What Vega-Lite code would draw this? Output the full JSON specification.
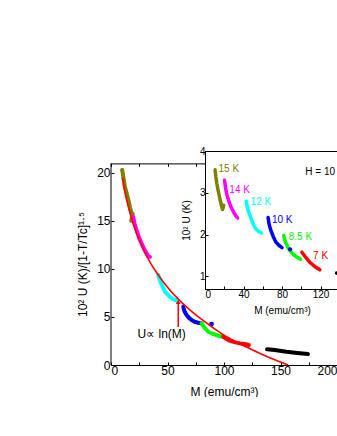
{
  "$schema": "https://vega.github.io/schema/vega-lite/v6.json",
  "padding": {"left": 76, "top": 145, "right": 0, "bottom": 0},
  "background": "white",
  "spacing": -132,
  "bounds": "flush",
  "align": "none",
  "config": {
    "font": "Liberation Sans",
    "axis": {"grid": false, "domainColor": "black", "tickColor": "black", "labelColor": "black", "titleColor": "black", "titleFontWeight": "normal", "tickSize": -3, "labelOverlap": false}
  },
  "datasets": {
    "mainData": [
      {"s": "15 K", "M": 9.8, "U": 20.3, "i": 1}, {"s": "15 K", "M": 10.3, "U": 20.0, "i": 2}, {"s": "15 K", "M": 11, "U": 19.5, "i": 3}, {"s": "15 K", "M": 12.4, "U": 18.5, "i": 4}, {"s": "15 K", "M": 14, "U": 17.8, "i": 5}, {"s": "15 K", "M": 15.3, "U": 17.2, "i": 6}, {"s": "15 K", "M": 17, "U": 16.3, "i": 7}, {"s": "15 K", "M": 18.3, "U": 15.8, "i": 8}, {"s": "15 K", "M": 19.3, "U": 15.7, "i": 9}, {"s": "15 K", "M": 18.6, "U": 15.3, "i": 10}, {"s": "15 K", "M": 17.8, "U": 15.0, "i": 11},
      {"s": "14 K", "M": 19.7, "U": 15.4, "i": 12}, {"s": "14 K", "M": 21, "U": 14.6, "i": 13}, {"s": "14 K", "M": 22.7, "U": 14.0, "i": 14}, {"s": "14 K", "M": 25, "U": 13.2, "i": 15}, {"s": "14 K", "M": 27.1, "U": 12.65, "i": 16}, {"s": "14 K", "M": 30, "U": 11.9, "i": 17}, {"s": "14 K", "M": 33, "U": 11.3, "i": 18}, {"s": "14 K", "M": 34.5, "U": 11.25, "i": 19},
      {"s": "12 K", "M": 41.8, "U": 9.36, "i": 20}, {"s": "12 K", "M": 43, "U": 8.9, "i": 21}, {"s": "12 K", "M": 45, "U": 8.3, "i": 22}, {"s": "12 K", "M": 48, "U": 7.6, "i": 23}, {"s": "12 K", "M": 52, "U": 7.1, "i": 24}, {"s": "12 K", "M": 55, "U": 6.85, "i": 25}, {"s": "12 K", "M": 58, "U": 6.7, "i": 26},
      {"s": "10 K", "M": 63.9, "U": 6.06, "i": 27}, {"s": "10 K", "M": 65, "U": 5.6, "i": 28}, {"s": "10 K", "M": 66.9, "U": 5.2, "i": 29}, {"s": "10 K", "M": 69, "U": 4.9, "i": 30}, {"s": "10 K", "M": 71.3, "U": 4.68, "i": 31}, {"s": "10 K", "M": 74, "U": 4.5, "i": 32}, {"s": "10 K", "M": 77.1, "U": 4.4, "i": 33}, {"s": "10 K", "M": 80.1, "U": 4.33, "i": 34},
      {"s": "8.5 K", "M": 80.1, "U": 4.33, "i": 35}, {"s": "8.5 K", "M": 83, "U": 3.85, "i": 36}, {"s": "8.5 K", "M": 86, "U": 3.46, "i": 37}, {"s": "8.5 K", "M": 90, "U": 3.25, "i": 38}, {"s": "8.5 K", "M": 93.4, "U": 3.12, "i": 39}, {"s": "8.5 K", "M": 97, "U": 2.98, "i": 40}, {"s": "8.5 K", "M": 100.7, "U": 2.88, "i": 41},
      {"s": "7 K", "M": 99.2, "U": 2.95, "i": 42}, {"s": "7 K", "M": 102, "U": 2.72, "i": 43}, {"s": "7 K", "M": 105, "U": 2.53, "i": 44}, {"s": "7 K", "M": 110, "U": 2.35, "i": 45}, {"s": "7 K", "M": 114, "U": 2.25, "i": 46}, {"s": "7 K", "M": 118, "U": 2.18, "i": 47}, {"s": "7 K", "M": 122, "U": 2.08, "i": 48},
      {"s": "other", "M": 138.1, "U": 1.63, "i": 49}, {"s": "other", "M": 145, "U": 1.55, "i": 50}, {"s": "other", "M": 155.2, "U": 1.38, "i": 51}, {"s": "other", "M": 165, "U": 1.25, "i": 52}, {"s": "other", "M": 174.3, "U": 1.14, "i": 53}
    ],
    "mainDots": [{"s": "10 K", "M": 89, "U": 4.26}],
    "fit": [
      {"M": 10, "U": 19.5}, {"M": 12, "U": 18.2}, {"M": 15, "U": 16.6}, {"M": 20, "U": 14.6}, {"M": 25, "U": 13.0}, {"M": 30, "U": 11.7}, {"M": 35, "U": 10.6}, {"M": 40, "U": 9.67}, {"M": 50, "U": 8.09}, {"M": 60, "U": 6.8}, {"M": 70, "U": 5.71}, {"M": 80, "U": 4.76}, {"M": 90, "U": 3.9}, {"M": 100, "U": 3.1}, {"M": 110, "U": 2.45}, {"M": 120, "U": 1.87}, {"M": 130, "U": 1.31}, {"M": 140, "U": 0.79}, {"M": 150, "U": 0.31}, {"M": 156.6, "U": 0}
    ],
    "arrow": [{"M": 59.5, "U0": 3.95, "U1": 6.5}],
    "arrowHead": [{"M": 59.5, "U": 6.55}],
    "note": [{"M": 44.8, "U": 3.22, "t": "U∝ ln(M)"}],
    "frame": [{"M": 0, "U0": 0, "U1": 21}],
    "insetData": [
      {"s": "15 K", "M": 10.5, "U": 3.55, "i": 1}, {"s": "15 K", "M": 11.3, "U": 3.38, "i": 2}, {"s": "15 K", "M": 12.3, "U": 3.22, "i": 3}, {"s": "15 K", "M": 13.7, "U": 3.05, "i": 4}, {"s": "15 K", "M": 15.1, "U": 2.9, "i": 5}, {"s": "15 K", "M": 16.5, "U": 2.75, "i": 6}, {"s": "15 K", "M": 17.9, "U": 2.63, "i": 7}, {"s": "15 K", "M": 18.3, "U": 2.6, "i": 8}, {"s": "15 K", "M": 19.5, "U": 2.7, "i": 9},
      {"s": "14 K", "M": 20.3, "U": 3.3, "i": 10}, {"s": "14 K", "M": 21.5, "U": 3.1, "i": 11}, {"s": "14 K", "M": 22.8, "U": 2.95, "i": 12}, {"s": "14 K", "M": 24.5, "U": 2.82, "i": 13}, {"s": "14 K", "M": 27, "U": 2.66, "i": 14}, {"s": "14 K", "M": 29.8, "U": 2.54, "i": 15}, {"s": "14 K", "M": 32, "U": 2.45, "i": 16}, {"s": "14 K", "M": 34, "U": 2.4, "i": 17},
      {"s": "12 K", "M": 42.8, "U": 2.8, "i": 18}, {"s": "12 K", "M": 44.5, "U": 2.6, "i": 19}, {"s": "12 K", "M": 47.4, "U": 2.42, "i": 20}, {"s": "12 K", "M": 50, "U": 2.26, "i": 21}, {"s": "12 K", "M": 52.6, "U": 2.14, "i": 22}, {"s": "12 K", "M": 55.5, "U": 2.08, "i": 23}, {"s": "12 K", "M": 58.6, "U": 2.04, "i": 24},
      {"s": "10 K", "M": 65.6, "U": 2.41, "i": 25}, {"s": "10 K", "M": 66.5, "U": 2.26, "i": 26}, {"s": "10 K", "M": 68.4, "U": 2.1, "i": 27}, {"s": "10 K", "M": 71, "U": 1.95, "i": 28}, {"s": "10 K", "M": 73.7, "U": 1.82, "i": 29}, {"s": "10 K", "M": 77, "U": 1.74, "i": 30}, {"s": "10 K", "M": 80, "U": 1.69, "i": 31},
      {"s": "8.5 K", "M": 81.8, "U": 1.98, "i": 32}, {"s": "8.5 K", "M": 83.5, "U": 1.83, "i": 33}, {"s": "8.5 K", "M": 86, "U": 1.7, "i": 34}, {"s": "8.5 K", "M": 88.5, "U": 1.61, "i": 35}, {"s": "8.5 K", "M": 91.2, "U": 1.54, "i": 36}, {"s": "8.5 K", "M": 95, "U": 1.47, "i": 37}, {"s": "8.5 K", "M": 99.3, "U": 1.41, "i": 38},
      {"s": "7 K", "M": 100.7, "U": 1.58, "i": 39}, {"s": "7 K", "M": 104.5, "U": 1.46, "i": 40}, {"s": "7 K", "M": 108.8, "U": 1.34, "i": 41}, {"s": "7 K", "M": 114, "U": 1.24, "i": 42}, {"s": "7 K", "M": 119.3, "U": 1.16, "i": 43},
      {"s": "other", "M": 136.8, "U": 1.08, "i": 44}, {"s": "other", "M": 145, "U": 1.04, "i": 45}
    ],
    "insetDots": [{"s": "10 K", "M": 88.4, "U": 1.65}],
    "insetLabels": [
      {"s": "15 K", "M": 14, "U": 3.58}, {"s": "14 K", "M": 25.3, "U": 3.06}, {"s": "12 K", "M": 47.4, "U": 2.78}, {"s": "10 K", "M": 69.5, "U": 2.36}, {"s": "8.5 K", "M": 87, "U": 1.94}, {"s": "7 K", "M": 112.3, "U": 1.5}
    ],
    "insetNote": [{"M": 104.2, "U": 3.5, "t": "H = 10 kOe"}]
  },
  "hconcat": [
    {
      "width": 226,
      "height": 214,
      "view": {"stroke": null},
      "resolve": {"axis": {"x": "independent"}},
      "layer": [
        {
          "data": {"name": "mainData"},
          "mark": {"type": "line", "strokeWidth": 4, "strokeCap": "round", "strokeJoin": "round"},
          "encoding": {
            "x": {"field": "M", "type": "quantitative", "scale": {"domain": [0, 200], "nice": false},
              "axis": {"orient": "bottom", "values": [0, 25, 50, 75, 100, 125, 150, 175, 200], "labelExpr": "datum.value % 50 === 0 ? datum.label : ''", "labelOverlap": false, "labelFontSize": 12, "labelPadding": 3, "title": "M (emu/cm³)", "titleFontSize": 12, "titlePadding": 10}},
            "y": {"field": "U", "type": "quantitative", "scale": {"domain": [0, 22.26], "nice": false},
              "axis": {"values": [0, 2.5, 5, 7.5, 10, 12.5, 15, 17.5, 20], "labelExpr": "datum.value % 5 === 0 ? datum.label : ''", "labelOverlap": false, "domain": false, "labelFontSize": 12, "labelPadding": 4, "title": "10² U (K)/[1-T/Tc]¹·⁵", "titleFontSize": 12, "titlePadding": 7, "titleY": 113}},
            "color": {"field": "s", "type": "nominal", "legend": null,
              "scale": {"domain": ["15 K", "14 K", "12 K", "10 K", "8.5 K", "7 K", "other"], "range": ["#808000", "#ff00ff", "#00ffff", "#0000ff", "#00ff00", "#ff0000", "#000000"]}},
            "order": {"field": "i", "type": "quantitative"}
          }
        },
        {
          "data": {"name": "mainDots"},
          "mark": {"type": "circle", "size": 22, "opacity": 1},
          "encoding": {
            "x": {"field": "M", "type": "quantitative", "axis": null},
            "y": {"field": "U", "type": "quantitative"},
            "color": {"field": "s", "type": "nominal", "legend": null}
          }
        },
        {
          "data": {"name": "fit"},
          "mark": {"type": "line", "color": "#ff0000", "strokeWidth": 1.6, "interpolate": "monotone"},
          "encoding": {
            "x": {"field": "M", "type": "quantitative", "axis": null},
            "y": {"field": "U", "type": "quantitative"}
          }
        },
        {
          "data": {"name": "arrow"},
          "mark": {"type": "rule", "color": "#ff0000", "strokeWidth": 1.5},
          "encoding": {
            "x": {"field": "M", "type": "quantitative", "axis": null},
            "y": {"field": "U0", "type": "quantitative"},
            "y2": {"field": "U1"}
          }
        },
        {
          "data": {"name": "arrowHead"},
          "mark": {"type": "point", "shape": "triangle-up", "filled": true, "color": "#ff0000", "size": 22, "opacity": 1},
          "encoding": {
            "x": {"field": "M", "type": "quantitative", "axis": null},
            "y": {"field": "U", "type": "quantitative"}
          }
        },
        {
          "data": {"name": "note"},
          "mark": {"type": "text", "fontSize": 12, "color": "black", "align": "center", "baseline": "middle"},
          "encoding": {
            "x": {"field": "M", "type": "quantitative", "axis": null},
            "y": {"field": "U", "type": "quantitative"},
            "text": {"field": "t"}
          }
        },
        {
          "data": {"name": "frame"},
          "mark": {"type": "rule", "color": "black", "strokeWidth": 1},
          "encoding": {
            "x": {"field": "M", "type": "quantitative",
              "axis": {"orient": "top", "offset": -12.4, "values": [0, 25, 50, 75, 100, 125, 150, 175, 200], "labels": false, "title": null}},
            "y": {"field": "U0", "type": "quantitative"},
            "y2": {"field": "U1"}
          }
        }
      ]
    },
    {
      "width": 154,
      "height": 138,
      "view": {"stroke": "black", "fill": "white"},
      "resolve": {"axis": {"x": "independent"}},
      "layer": [
        {
          "data": {"name": "insetData"},
          "mark": {"type": "line", "strokeWidth": 3.5, "strokeCap": "round", "strokeJoin": "round"},
          "encoding": {
            "x": {"field": "M", "type": "quantitative", "scale": {"domain": [0, 160], "nice": false},
              "axis": {"values": [0, 40, 80, 120, 160], "labelOverlap": false, "labelFontSize": 10, "labelPadding": 3, "title": "M (emu/cm³)", "titleFontSize": 10, "titlePadding": 6}},
            "y": {"field": "U", "type": "quantitative", "scale": {"domain": [0.7, 4], "nice": false},
              "axis": {"values": [1, 1.5, 2, 2.5, 3, 3.5, 4], "labelExpr": "datum.value % 1 === 0 ? datum.label : ''", "labelOverlap": false, "labelFontSize": 10, "labelPadding": 3, "title": "10² U (K)", "titleFontSize": 10, "titlePadding": 8}},
            "color": {"field": "s", "type": "nominal", "legend": null,
              "scale": {"domain": ["15 K", "14 K", "12 K", "10 K", "8.5 K", "7 K", "other"], "range": ["#808000", "#ff00ff", "#00ffff", "#0000ff", "#00ff00", "#ff0000", "#000000"]}},
            "order": {"field": "i", "type": "quantitative"}
          }
        },
        {
          "data": {"name": "insetDots"},
          "mark": {"type": "circle", "size": 18, "opacity": 1},
          "encoding": {
            "x": {"field": "M", "type": "quantitative",
              "axis": {"orient": "bottom", "values": [20, 60, 100, 140], "labels": false, "domain": false, "title": null}},
            "y": {"field": "U", "type": "quantitative"},
            "color": {"field": "s", "type": "nominal", "legend": null}
          }
        },
        {
          "data": {"name": "insetLabels"},
          "mark": {"type": "text", "fontSize": 10, "align": "left", "baseline": "middle"},
          "encoding": {
            "x": {"field": "M", "type": "quantitative", "axis": null},
            "y": {"field": "U", "type": "quantitative"},
            "text": {"field": "s"},
            "color": {"field": "s", "type": "nominal", "legend": null}
          }
        },
        {
          "data": {"name": "insetNote"},
          "mark": {"type": "text", "fontSize": 10, "align": "left", "baseline": "middle", "color": "black"},
          "encoding": {
            "x": {"field": "M", "type": "quantitative", "axis": null},
            "y": {"field": "U", "type": "quantitative"},
            "text": {"field": "t"}
          }
        }
      ]
    }
  ]
}
